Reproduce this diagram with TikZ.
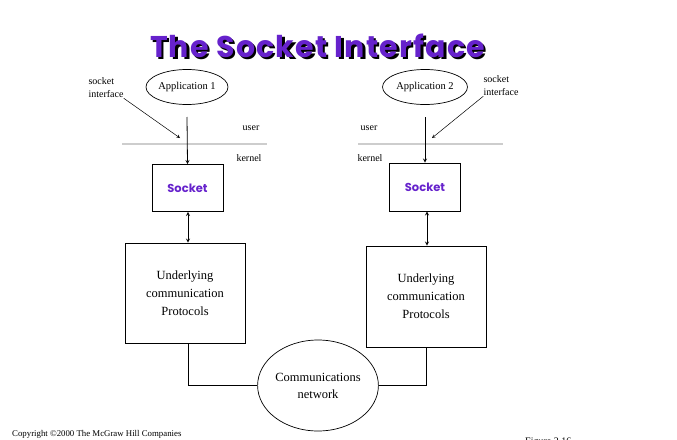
\documentclass[tikz,border=0pt]{standalone}
\usepackage{fontspec}
\setmainfont{Liberation Serif}
\newfontfamily\comicfont{Poppins}
\newfontfamily\titlefont[LetterSpace=4]{Poppins}
\usetikzlibrary{shapes.geometric}
\definecolor{sockpurple}{RGB}{102,34,204}
\definecolor{linegray}{RGB}{205,205,205}

\begin{document}
\begin{tikzpicture}[
    x=1pt, y=-1pt,
    >=stealth,
    arr/.style={->, line width=0.8pt, draw=black},
    dblarr/.style={<->, line width=0.8pt, draw=black},
    wire/.style={draw=black, line width=0.7pt},
    divider/.style={draw=linegray, line width=2.5pt},
    appell/.style={draw, line width=0.7pt, ellipse, minimum width=82pt,
        minimum height=35pt, inner sep=0pt, font=\fontsize{10.5}{12}\selectfont},
    netell/.style={draw, line width=0.7pt, ellipse, minimum width=119pt,
        minimum height=91pt, inner sep=0pt, align=center,
        font=\fontsize{12.5}{17}\selectfont},
    sockbox/.style={draw, line width=0.8pt, minimum width=71pt, minimum height=47pt,
        font=\comicfont\bfseries\fontsize{11.5}{13}\selectfont, text=sockpurple},
    protbox/.style={draw, line width=0.8pt, minimum width=120pt, minimum height=100pt,
        align=center, font=\fontsize{12.5}{18}\selectfont},
    lbl/.style={font=\fontsize{10}{13}\selectfont, inner sep=0pt, align=left},
    titletxt/.style={font=\titlefont\bfseries\fontsize{30}{32}\selectfont}
]
\useasboundingbox (0,0) rectangle (677,439);

%------------------------------------------------
% nadpis
%------------------------------------------------
\node[titletxt, text=black] (titleshadow) at (320,48) {The Socket Interface};
\node[titletxt, text=sockpurple] (title) at (317.5,45.5) {The Socket Interface};

%------------------------------------------------
% aplikace a sockety
%------------------------------------------------
\node[appell] (app1) at (187,87) {Application 1};
\node[appell, minimum width=85pt] (app2) at (425,87) {Application 2};

\node[sockbox] (sock1) at (187.5,188) {Socket};
\node[sockbox, minimum height=48pt] (sock2) at (425,187) {Socket};

\node[protbox] (prot1) at (185,293) {Underlying\\communication\\Protocols};
\node[protbox, minimum height=101pt] (prot2) at (426,296.5) {Underlying\\communication\\Protocols};

\node[netell] (net) at (318,385.5) {Communications\\network};

%------------------------------------------------
% popisky
%------------------------------------------------
\node[lbl] (si1) at (106,88) {socket\\interface};
\node[lbl] (si2) at (501,86) {socket\\interface};

\node[lbl] (user1)   at (251,128) {user};
\node[lbl] (kernel1) at (249,158) {kernel};
\node[lbl] (user2)   at (369,128) {user};
\node[lbl] (kernel2) at (370,158) {kernel};

% hranice user / kernel
\draw[divider] (122,144) -- (267,144);
\draw[divider] (358,144) -- (503,144);

\coordinate (start1) at (187,117);
\coordinate (start2) at (425,117);
\coordinate (tip1) at (180,138);
\coordinate (tip2) at (432,138);

%------------------------------------------------
% sipky
%------------------------------------------------
\draw[arr] (start1) -- (sock1.north);
\draw[arr] (start2) -- (sock2.north);

\draw[arr, line width=0.5pt] (si1.south east) -- (tip1);
\draw[arr, line width=0.5pt] (si2.south west) -- (tip2);

\draw[dblarr] ([xshift=0.5pt]sock1.south) -- ([xshift=0.5pt]sock1.south |- prot1.north);
\draw[dblarr] ([xshift=2pt]sock2.south) -- ([xshift=2pt]sock2.south |- prot2.north);

\draw[wire] ([xshift=3pt]prot1.south) |- (net.west);
\draw[wire] (net.east) -| (prot2.south);

%------------------------------------------------
% paticka
%------------------------------------------------
\node[font=\fontsize{8.8}{10}\selectfont, anchor=base west, inner sep=0pt] (copy)
    at (12,436) {Copyright \textcopyright 2000 The McGraw Hill Companies};
\node[font=\fontsize{10}{11}\selectfont, anchor=base west, inner sep=0pt] (fig)
    at (525,444) {Figure 2.16};

\end{tikzpicture}
\end{document}
